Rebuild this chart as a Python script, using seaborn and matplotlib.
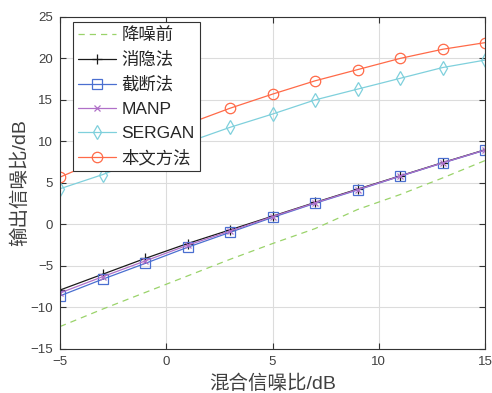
import matplotlib
matplotlib.use("Agg")
import matplotlib.pyplot as plt
import seaborn as sns
import pandas as pd

x_snr = [-5, -3, -1, 1, 3, 5, 7, 9, 11, 13, 15]
before = [-12.3, -10.2, -8.2, -6.2, -4.2, -2.3, -0.5, 1.8, 3.6, 5.6, 7.7]
xiaoyin = [-7.9, -6.0, -4.1, -2.3, -0.65, 1.0, 2.65, 4.25, 5.85, 7.45, 9.0]
jieduan = [-8.6, -6.6, -4.7, -2.75, -0.95, 0.85, 2.55, 4.15, 5.8, 7.4, 8.95]
manp = [-8.25, -6.3, -4.4, -2.5, -0.8, 0.95, 2.6, 4.2, 5.82, 7.42, 8.97]
sergan = [4.3, 6.0, 8.0, 9.9, 11.7, 13.3, 15.0, 16.3, 17.6, 18.9, 19.8]
ours = [5.7, 7.9, 10.1, 12.1, 14.0, 15.7, 17.3, 18.65, 20.0, 21.1, 21.9]

names = ["降噪前", "消隐法", "截断法", "MANP", "SERGAN", "本文方法"]
series = [before, xiaoyin, jieduan, manp, sergan, ours]
colors = ["#9ad36a", "#1a1a1a", "#4a6fd0", "#b070c8", "#7fd0dc", "#ff6a48"]
markers = [None, "+", "s", "x", "d", "o"]
msizes = [0, 7, 6.5, 5, 7.5, 7.5]

sns.set_style("white")
plt.rcParams["font.family"] = ["Liberation Sans", "Noto Sans CJK SC"]

fig = plt.figure(figsize=(4.92, 3.93), dpi=100)
ax = fig.add_axes([0.122, 0.112, 0.864, 0.845])

for name, ys, c, m, ms in zip(names, series, colors, markers, msizes):
    df = pd.DataFrame({"x": x_snr, "y": ys})
    kw = dict(data=df, x="x", y="y", ax=ax, color=c, label=name, linewidth=0.9)
    if m is None:
        sns.lineplot(**kw, linestyle=(0, (5, 4)))
    else:
        sns.lineplot(**kw, marker=m, markersize=ms,
                     markerfacecolor="none", markeredgecolor=c, markeredgewidth=0.9)

ax.set_xlim(-5, 15)
ax.set_ylim(-15, 25)
ax.set_xticks([-5, 0, 5, 10, 15])
ax.set_yticks([-15, -10, -5, 0, 5, 10, 15, 20, 25])
ax.grid(True, color="#dcdcdc", linewidth=0.8)
for s in ax.spines.values():
    s.set_color("#333333")
    s.set_linewidth(0.8)
ax.tick_params(direction="in", length=4, width=0.8, colors="#333333",
               labelsize=9.5, labelcolor="#404040", top=True, right=True,
               bottom=True, left=True, pad=5)
ax.set_xlabel("混合信噪比/dB", fontsize=14, color="#404040", labelpad=5)
ax.set_ylabel("输出信噪比/dB", fontsize=14, color="#404040", labelpad=1)

leg = ax.legend(loc="upper left", bbox_to_anchor=(0.03, 0.985), fontsize=12.5,
                frameon=True, fancybox=False,
                edgecolor="#333333", framealpha=1, borderpad=0.3,
                labelspacing=0.5, handlelength=2.2, handletextpad=0.3,
                borderaxespad=0)
leg.get_frame().set_linewidth(0.8)

fig.savefig("out.png", dpi=100)
